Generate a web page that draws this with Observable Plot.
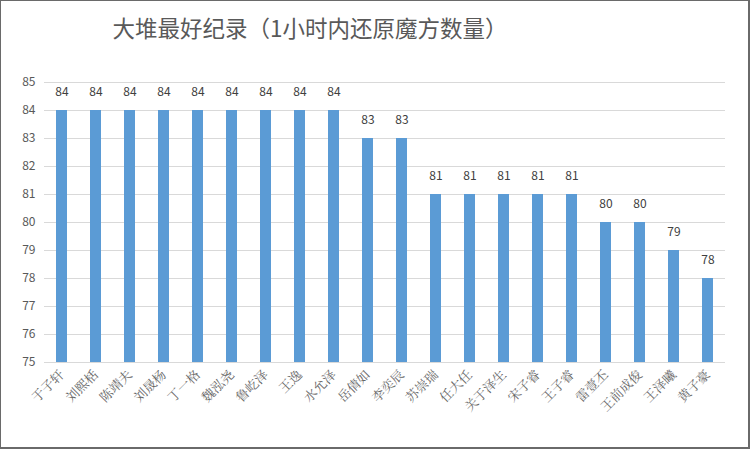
<!DOCTYPE html>
<html><head><meta charset="utf-8">
<script src="https://cdn.jsdelivr.net/npm/d3@7"></script>
<script src="https://cdn.jsdelivr.net/npm/@observablehq/plot@0.6"></script>
<style>
body{margin:0;background:#fff;}
#box{width:747px;height:446px;border:1px solid #6a6a6a;border-right:2px solid #6a6a6a;border-bottom:2px solid #6a6a6a;position:relative;overflow:hidden;background:#fff;}
#title{position:absolute;left:0;top:10px;width:618px;text-align:center;font-family:"Noto Sans CJK SC",sans-serif;font-size:22.5px;color:#595959;line-height:32px;}
#chart{position:absolute;left:0;top:53px;}
</style></head>
<body>
<div id="box"><div id="title">大堆最好纪录（1小时内还原魔方数量）</div><div id="chart"></div></div>
<script>
const names = ["于子轩","刘熙栝","陈靖夫","刘晟杨","丁一格","魏泓尧","鲁屹泽","王逸","水允泽","岳倩如","李奕辰","苏崇瑞","任大任","关于泽生","宋子睿","王子睿","雷壹丕","王前成俊","王泽曦","黄子豪"];
const values = [84,84,84,84,84,84,84,84,84,83,83,81,81,81,81,81,80,80,79,78];
const yTicks = [75,76,77,78,79,80,81,82,83,84,85];
const data = names.map((n,i)=>({name:n, value:values[i]}));
const font = "'Noto Sans CJK SC', sans-serif";
const chart = Plot.plot({
  width: 747, height: 393,
  marginTop: 28, marginBottom: 85, marginLeft: 43, marginRight: 23,
  style: {fontFamily: font, fontSize: "12px", color: "#595959", background: "transparent"},
  x: {domain: names, paddingInner: 0.68, paddingOuter: 0.34, label: null},
  y: {domain: [75,85], ticks: yTicks, label: null},
  marks: [
    Plot.gridY(yTicks, {stroke: "#d9d9d9", strokeOpacity: 1}),
    Plot.barY(data, {x: "name", y1: 75, y2: "value", fill: "#5b9bd5"}),
    Plot.text(data, {x: "name", y: "value", text: d => String(d.value), dy: -18, fill: "#404040", fontSize: 12}),
    Plot.axisY({ticks: yTicks, tickSize: 0, tickPadding: 9, label: null, fontSize: 12}),
    Plot.axisX({tickSize: 0, tickPadding: 10, tickRotate: -45, label: null, fontSize: 13, fill: "#666666", fontFamily: "'Noto Serif CJK SC', 'Noto Sans CJK SC', serif"})
  ]
});
document.getElementById("chart").appendChild(chart);
</script>
</body></html>
